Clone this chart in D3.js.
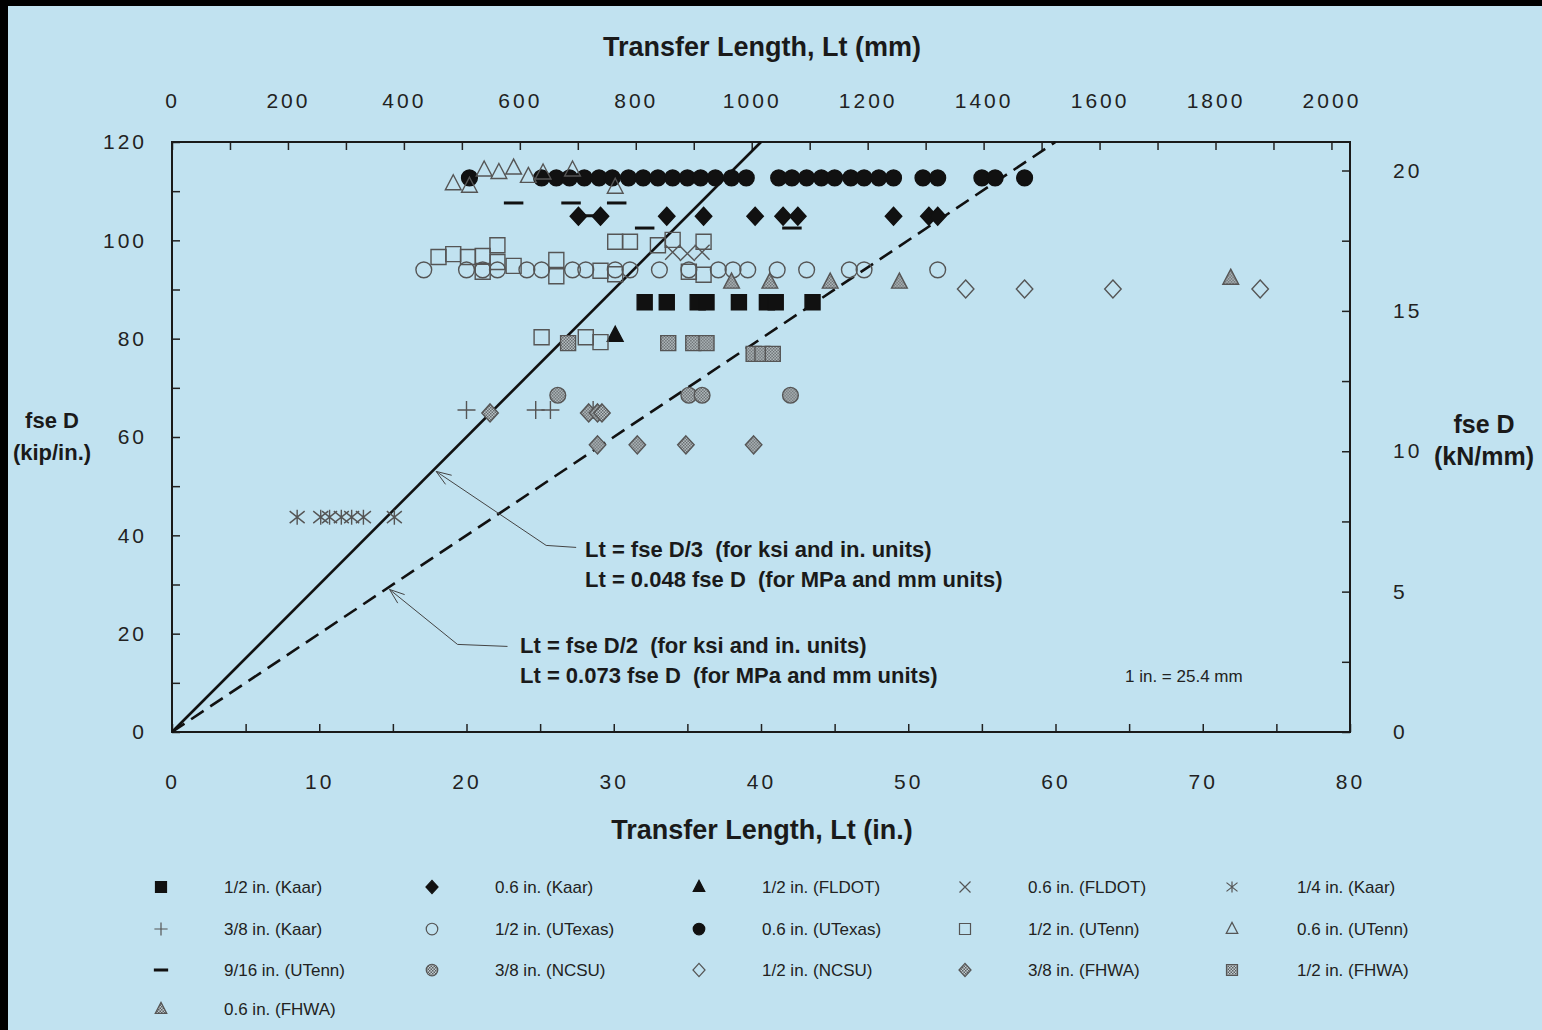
<!DOCTYPE html>
<html>
<head>
<meta charset="utf-8">
<script src="https://cdn.jsdelivr.net/npm/d3@7"></script>
<style>
  body { margin: 0; background: #c1e2f0; }
  svg { display: block; }
  .tick text { font-family: "Liberation Sans", Arial, sans-serif; font-size: 21px; fill: #222; letter-spacing: 3px; }
  .ttl { font-family: "Liberation Sans", Arial, sans-serif; font-weight: bold; fill: #1a1a1a; white-space: pre; }
  .leg { font-family: "Liberation Sans", Arial, sans-serif; font-size: 17px; fill: #222; }
</style>
</head>
<body>
<div id="graf"></div>
<script>
// Datos (x = Lt en pulgadas, y = fse D en kip/in.)
const kaarHalf = [[32.1, 87.4], [33.6, 87.4], [35.7, 87.4], [36.3, 87.4], [38.5, 87.4], [40.4, 87.4], [41.0, 87.4], [43.5, 87.4]]
const kaarSix = [[27.6, 104.9], [29.1, 104.9], [33.6, 104.9], [36.1, 104.9], [39.6, 104.9], [41.5, 104.9], [42.5, 104.9], [49.0, 104.9], [51.4, 104.9], [52.0, 104.9]]
const fldotHalf = [[30.1, 80.7]]
const fldotSix = [[34.0, 97.6], [35.0, 97.3], [36.0, 97.6]]
const kaarQuarter = [[8.5, 43.7], [10.1, 43.7], [10.7, 43.7], [11.5, 43.7], [12.2, 43.7], [13.0, 43.7], [15.1, 43.7]]
const kaarThreeEighths = [[20.0, 65.5], [24.7, 65.5], [25.7, 65.5], [28.6, 65.5]]
const utexasHalf = [[17.1, 94.0], [20.0, 94.0], [21.1, 94.0], [22.1, 94.0], [24.1, 94.0], [25.1, 94.0], [27.2, 94.0], [28.1, 94.0], [30.1, 94.0], [31.1, 94.0], [33.1, 94.0], [35.1, 94.0], [37.1, 94.0], [38.1, 94.0], [39.1, 94.0], [41.1, 94.0], [43.1, 94.0], [46.0, 94.0], [47.0, 94.0], [52.0, 94.0]]
const utexasSix = [[20.2, 112.7], [25.1, 112.7], [26.1, 112.7], [27.0, 112.7], [28.0, 112.7], [29.0, 112.7], [29.9, 112.7], [31.0, 112.7], [32.0, 112.7], [33.0, 112.7], [34.0, 112.7], [35.0, 112.7], [35.9, 112.7], [36.9, 112.7], [38.0, 112.7], [39.0, 112.7], [41.2, 112.7], [42.1, 112.7], [43.1, 112.7], [44.1, 112.7], [45.0, 112.7], [46.1, 112.7], [47.0, 112.7], [48.0, 112.7], [49.0, 112.7], [51.0, 112.7], [52.0, 112.7], [55.0, 112.7], [55.9, 112.7], [57.9, 112.7]]
const utennHalf = [[18.1, 96.6], [19.1, 97.2], [20.1, 96.6], [21.1, 96.8], [21.1, 93.6], [22.1, 99.0], [22.1, 95.6], [23.2, 94.8], [26.1, 96.0], [26.1, 92.7], [29.1, 93.8], [30.1, 93.1], [30.1, 99.7], [31.1, 99.7], [33.0, 99.0], [34.0, 100.1], [36.1, 99.7], [35.1, 93.6], [36.1, 93.0], [25.1, 80.3], [28.1, 80.3], [29.1, 79.3]]
const utennSix = [[19.1, 111.5], [20.2, 111.0], [21.2, 114.3], [22.2, 113.8], [23.2, 114.7], [24.2, 113.0], [25.2, 113.7], [27.2, 114.3], [30.1, 110.8]]
const utennNineSixteenths = [[23.2, 107.6], [27.1, 107.6], [30.2, 107.6], [32.1, 102.5], [42.1, 102.5], [28.4, 105.0]]
const ncsuThreeEighths = [[26.2, 68.5], [35.1, 68.5], [36.0, 68.5], [42.0, 68.5]]
const ncsuHalf = [[53.9, 90.1], [57.9, 90.1], [63.9, 90.1], [73.9, 90.1]]
const fhwaThreeEighths = [[21.6, 64.9], [28.3, 64.9], [28.9, 64.9], [29.2, 64.9], [28.9, 58.4], [31.6, 58.4], [34.9, 58.4], [39.5, 58.4]]
const fhwaHalf = [[26.9, 79.1], [33.7, 79.1], [35.4, 79.1], [36.3, 79.1], [39.5, 76.9], [40.1, 76.9], [40.8, 76.9]]
const fhwaSix = [[38.0, 91.5], [40.6, 91.5], [44.7, 91.5], [49.4, 91.5], [71.9, 92.3]]

const seriesNames = [
  "1/2 in. (Kaar)", "0.6 in. (Kaar)", "1/2 in. (FLDOT)", "0.6 in. (FLDOT)", "1/4 in. (Kaar)",
  "3/8 in. (Kaar)", "1/2 in. (UTexas)", "0.6 in. (UTexas)", "1/2 in. (UTenn)", "0.6 in. (UTenn)",
  "9/16 in. (UTenn)", "3/8 in. (NCSU)", "1/2 in. (NCSU)", "3/8 in. (FHWA)", "1/2 in. (FHWA)",
  "0.6 in. (FHWA)"
]
const seriesData = [
  kaarHalf, kaarSix, fldotHalf, fldotSix, kaarQuarter,
  kaarThreeEighths, utexasHalf, utexasSix, utennHalf, utennSix,
  utennNineSixteenths, ncsuThreeEighths, ncsuHalf, fhwaThreeEighths, fhwaHalf,
  fhwaSix
]
const xTicksIn = [0, 10, 20, 30, 40, 50, 60, 70, 80]
const xTicksMm = [0, 200, 400, 600, 800, 1000, 1200, 1400, 1600, 1800, 2000]
const yTicksKip = [0, 20, 40, 60, 80, 100, 120]
const yTicksKn = [0, 5, 10, 15, 20]

// estilos de marcadores
const estilos = [
  { m: "square", fill: "#111", stroke: "#111" },
  { m: "diamond", fill: "#111", stroke: "#111" },
  { m: "triangle", fill: "#111", stroke: "#111" },
  { m: "x", fill: "none", stroke: "#555" },
  { m: "asterisk", fill: "none", stroke: "#555" },
  { m: "plus", fill: "none", stroke: "#555" },
  { m: "circle", fill: "none", stroke: "#555" },
  { m: "circle", fill: "#111", stroke: "#111" },
  { m: "square", fill: "none", stroke: "#555" },
  { m: "triangle", fill: "none", stroke: "#555" },
  { m: "dash", fill: "none", stroke: "#111" },
  { m: "circle", fill: "url(#hatch)", stroke: "#555" },
  { m: "diamond", fill: "none", stroke: "#555" },
  { m: "diamond", fill: "url(#hatch)", stroke: "#555" },
  { m: "square", fill: "url(#hatch)", stroke: "#555" },
  { m: "triangle", fill: "url(#hatch)", stroke: "#555" }
]

const markerPath = (m, s) => {
  switch (m) {
    case "square": return `M${-s},${-s}h${2 * s}v${2 * s}h${-2 * s}Z`
    case "diamond": return `M0,${-s * 1.2}L${s * 1.1},0L0,${s * 1.2}L${-s * 1.1},0Z`
    case "triangle": return `M0,${-s * 1.2}L${s * 1.05},${s * 0.8}L${-s * 1.05},${s * 0.8}Z`
    case "circle": return d3.arc()({ innerRadius: 0, outerRadius: s * 1.05, startAngle: 0, endAngle: 2 * Math.PI })
    case "x": return `M${-s},${-s}L${s},${s}M${-s},${s}L${s},${-s}`
    case "asterisk": return `M${-s},${-s * 0.8}L${s},${s * 0.8}M${-s},${s * 0.8}L${s},${-s * 0.8}M0,${-s}V${s}`
    case "plus": return `M${-s * 1.2},0H${s * 1.2}M0,${-s * 1.2}V${s * 1.2}`
    case "dash": return `M${-s * 1.3},0H${s * 1.3}`
  }
}

const graf = d3.select("#graf")
const anchoTotal = 1542
const altoTotal = 1030
const margins = { left: 172, top: 142, right: 192, bottom: 298 }
const ancho = anchoTotal - margins.left - margins.right
const alto = altoTotal - margins.top - margins.bottom

const svg = graf.append("svg").attr("width", anchoTotal).attr("height", altoTotal)

const defs = svg.append("defs")
const hatch = defs.append("pattern").attr("id", "hatch")
  .attr("width", 3).attr("height", 3).attr("patternUnits", "userSpaceOnUse")
hatch.append("rect").attr("width", 3).attr("height", 3).attr("fill", "#c4cdd0")
hatch.append("rect").attr("width", 1.5).attr("height", 1.5).attr("fill", "#5a5f62")
hatch.append("rect").attr("x", 1.5).attr("y", 1.5).attr("width", 1.5).attr("height", 1.5).attr("fill", "#5a5f62")

// fondo y bordes del escaneo
svg.append("rect").attr("width", anchoTotal).attr("height", altoTotal).attr("fill", "#c1e2f0")
svg.append("rect").attr("width", anchoTotal).attr("height", 6).attr("fill", "#000")
svg.append("rect").attr("width", 8).attr("height", altoTotal).attr("fill", "#000")

const g = svg.append("g").attr("transform", `translate(${margins.left}, ${margins.top})`)

// Escaladores
const x = d3.scaleLinear().domain([0, 80]).range([0, ancho])
const xmm = d3.scaleLinear().domain([0, 80 * 25.4]).range([0, ancho])
const y = d3.scaleLinear().domain([0, 120]).range([alto, 0])
const kipPorKn = 0.224809 * 25.4
const ykn = d3.scaleLinear().domain([0, 120 / kipPorKn]).range([alto, 0])

// Ejes
const estiloEje = (sel) => {
  sel.select(".domain").remove()
  sel.selectAll(".tick line").attr("stroke", "#222").attr("stroke-width", 1.5)
}

g.append("g").attr("transform", `translate(0, ${alto})`)
  .call(d3.axisBottom(x).tickValues(d3.range(0, 81, 5)).tickSize(-8).tickPadding(42)
    .tickFormat((d) => (xTicksIn.includes(d) ? d : "")))
  .call(estiloEje)

g.append("g")
  .call(d3.axisTop(xmm).tickValues(d3.range(0, 2001, 100)).tickSize(-8).tickPadding(34)
    .tickFormat((d) => (xTicksMm.includes(d) ? d : "")))
  .call(estiloEje)

g.append("g")
  .call(d3.axisLeft(y).tickValues(d3.range(0, 121, 10)).tickSize(-8).tickPadding(25)
    .tickFormat((d) => (yTicksKip.includes(d) ? d : "")))
  .call(estiloEje)

g.append("g").attr("transform", `translate(${ancho}, 0)`)
  .call(d3.axisRight(ykn).tickValues(d3.range(0, 21, 2.5)).tickSize(-8).tickPadding(43)
    .tickFormat((d) => (yTicksKn.includes(d) ? d : "")))
  .call(estiloEje)

g.append("rect").attr("width", ancho).attr("height", alto)
  .attr("fill", "none").attr("stroke", "#1a1a1a").attr("stroke-width", 2)

// Lineas de diseño: Lt = fse D/3 y Lt = fse D/2
const linea = d3.line().x((d) => x(d[0])).y((d) => y(d[1]))
g.append("path").datum([[0, 0], [40, 120]]).attr("d", linea)
  .attr("stroke", "#111").attr("stroke-width", 2.6).attr("fill", "none")
g.append("path").datum([[0, 0], [60, 120]]).attr("d", linea)
  .attr("stroke", "#111").attr("stroke-width", 2.6).attr("fill", "none")
  .attr("stroke-dasharray", "15,8")

// Puntos
seriesData.forEach((serie, i) => {
  const e = estilos[i]
  g.append("g").selectAll("path").data(serie).join("path")
    .attr("transform", (d) => `translate(${x(d[0])}, ${y(d[1])})`)
    .attr("d", markerPath(e.m, 7.5))
    .attr("fill", e.fill)
    .attr("stroke", e.stroke)
    .attr("stroke-width", e.m === "dash" ? 3 : 1.4)
})

// Anotaciones con flechas
const flecha = (fse, pend, dx1, dy1, dx2) => {
  const tx = x(fse / pend) + 4
  const ty = y(fse)
  g.append("path")
    .attr("d", `M${tx},${ty}L${tx + dx1},${ty + dy1}L${tx + dx1 + dx2},${ty + dy1 + 2}`)
    .attr("fill", "none").attr("stroke", "#444").attr("stroke-width", 1)
  const ang = Math.atan2(dy1, dx1)
  const a1 = ang + 0.35, a2 = ang - 0.35
  g.append("path")
    .attr("d", `M${tx + 16 * Math.cos(a1)},${ty + 16 * Math.sin(a1)}L${tx},${ty}L${tx + 16 * Math.cos(a2)},${ty + 16 * Math.sin(a2)}`)
    .attr("fill", "none").attr("stroke", "#444").attr("stroke-width", 1)
}
flecha(53, 3, 110, 74, 30)
flecha(29, 2, 68, 55, 50)

const nota = (tx, ty, t, size) =>
  svg.append("text").attr("class", "ttl").attr("x", tx).attr("y", ty)
    .attr("font-size", size).text(t)
nota(585, 557, "Lt = fse D/3  (for ksi and in. units)", 22)
nota(585, 587, "Lt = 0.048 fse D  (for MPa and mm units)", 22)
nota(520, 653, "Lt = fse D/2  (for ksi and in. units)", 22)
nota(520, 683, "Lt = 0.073 fse D  (for MPa and mm units)", 22)
svg.append("text").attr("class", "leg").attr("x", 1125).attr("y", 682)
  .attr("font-size", 16).text("1 in. = 25.4 mm")

// Titulos
const titulo = (tx, ty, t, size) =>
  svg.append("text").attr("class", "ttl").attr("x", tx).attr("y", ty)
    .attr("text-anchor", "middle").attr("font-size", size).text(t)
titulo(762, 56, "Transfer Length, Lt (mm)", 27)
titulo(762, 839, "Transfer Length, Lt (in.)", 27)
titulo(52, 428, "fse D", 22)
titulo(52, 460, "(kip/in.)", 22)
titulo(1484, 433, "fse D", 25)
titulo(1484, 465, "(kN/mm)", 25)

// Leyenda
const colSym = [161, 432, 699, 965, 1232]
const colTxt = [224, 495, 762, 1028, 1297]
const filas = [887, 929, 970, 1009]
seriesNames.forEach((nombre, i) => {
  const c = i % 5, f = Math.floor(i / 5)
  const e = estilos[i]
  svg.append("path")
    .attr("transform", `translate(${colSym[c]}, ${filas[f]})`)
    .attr("d", markerPath(e.m, 5.5))
    .attr("fill", e.fill).attr("stroke", e.stroke)
    .attr("stroke-width", e.m === "dash" ? 3 : 1.2)
  svg.append("text").attr("class", "leg").attr("x", colTxt[c]).attr("y", filas[f] + 6).text(nombre)
})
</script>
</body>
</html>
